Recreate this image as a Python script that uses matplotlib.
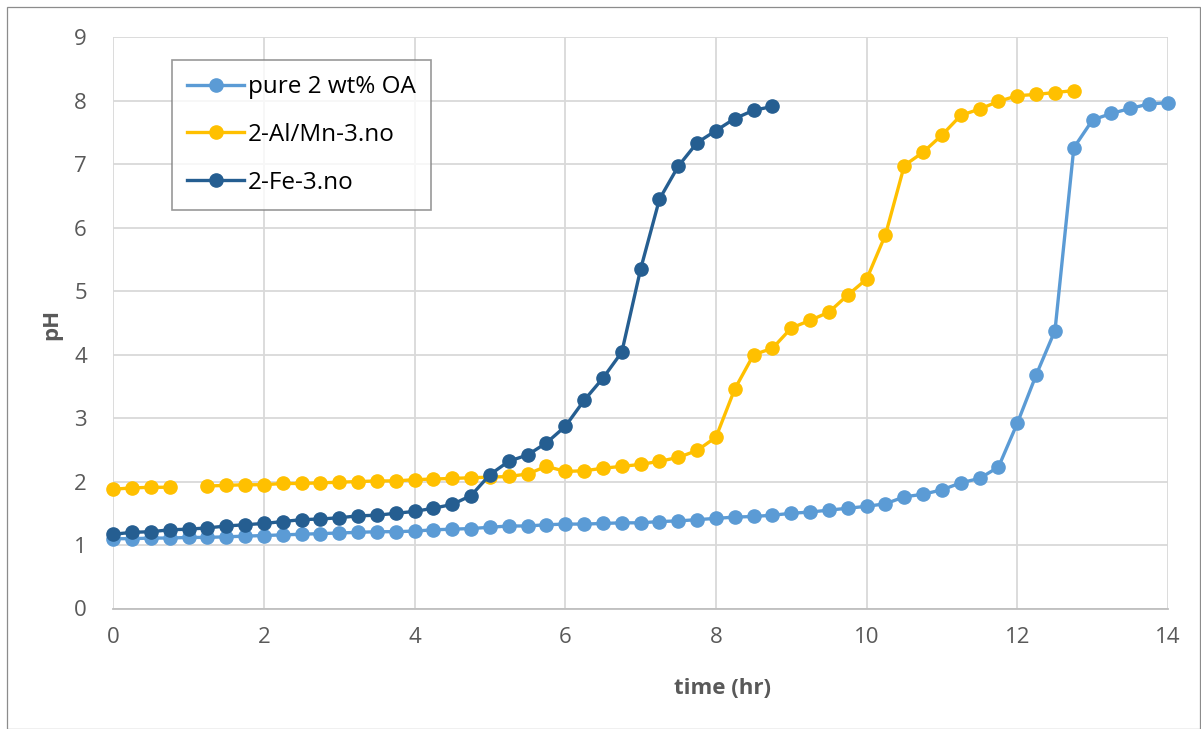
import numpy as np
import matplotlib
matplotlib.use("Agg")
import matplotlib.pyplot as plt
from matplotlib.patches import Rectangle

plt.rcParams['font.family'] = ['Open Sans', 'DejaVu Sans']

# time axis (hr), sampled every 15 minutes
time_pure = np.arange(57) * 0.25
time_almn = np.arange(52) * 0.25
time_fe = np.arange(36) * 0.25

ph_pure = [1.10, 1.10, 1.11, 1.11, 1.12, 1.12, 1.13, 1.14, 1.15, 1.16,
           1.17, 1.18, 1.19, 1.20, 1.21, 1.21, 1.22, 1.24, 1.25, 1.26,
           1.28, 1.30, 1.30, 1.32, 1.33, 1.33, 1.34, 1.35, 1.35, 1.37,
           1.38, 1.40, 1.42, 1.44, 1.45, 1.47, 1.50, 1.52, 1.55, 1.58,
           1.61, 1.65, 1.76, 1.80, 1.87, 1.98, 2.05, 2.23, 2.92, 3.68,
           4.38, 7.26, 7.70, 7.80, 7.88, 7.95, 7.97]

ph_almn = [1.88, 1.90, 1.91, 1.91, np.nan, 1.93, 1.94, 1.95, 1.95, 1.97,
           1.97, 1.98, 1.99, 2.00, 2.01, 2.01, 2.03, 2.04, 2.05, 2.06,
           2.07, 2.08, 2.12, 2.24, 2.16, 2.17, 2.21, 2.24, 2.27, 2.32,
           2.38, 2.49, 2.70, 3.46, 4.00, 4.10, 4.42, 4.54, 4.67, 4.94,
           5.19, 5.89, 6.98, 7.19, 7.46, 7.77, 7.87, 7.99, 8.08, 8.10,
           8.13, 8.16]

ph_fe = [1.17, 1.20, 1.21, 1.24, 1.25, 1.27, 1.30, 1.32, 1.34, 1.37,
         1.40, 1.41, 1.43, 1.46, 1.47, 1.50, 1.53, 1.58, 1.64, 1.78,
         2.11, 2.32, 2.42, 2.61, 2.87, 3.28, 3.63, 4.04, 5.35, 6.45,
         6.97, 7.34, 7.53, 7.72, 7.85, 7.91]

series_labels = ["pure 2 wt% OA", "2-Al/Mn-3.no", "2-Fe-3.no"]
series_colors = ["#5B9BD5", "#FFC000", "#255E91"]
x_ticks = [0, 2, 4, 6, 8, 10, 12, 14]
y_ticks = list(range(10))

W, H = 1201, 729
fig = plt.figure(figsize=(W / 100, H / 100), dpi=100)

# outer chart frame
fig.patches.append(Rectangle((7 / W, 0.0), 1 - 8 / W, 1 - 7 / H,
                             transform=fig.transFigure, fill=False,
                             edgecolor="#8C8C8C", linewidth=0.9))

ax = fig.add_axes([113.3 / W, 1 - 608.5 / H, (1168 - 113.3) / W, (608.5 - 37.3) / H])
ax.set_xlim(0, 14)
ax.set_ylim(0, 9)
ax.set_xticks(x_ticks)
ax.set_yticks(y_ticks)
ax.grid(True, color="#D9D9D9", linewidth=1.3)
ax.set_axisbelow(True)
for side in ("top", "right", "left"):
    ax.spines[side].set_visible(False)
ax.spines["bottom"].set_color("#BFBFBF")
ax.spines["bottom"].set_linewidth(1.3)
ax.tick_params(length=0, labelsize=16, labelcolor="#595959")
ax.tick_params(axis="x", pad=13)
ax.tick_params(axis="y", pad=19)

for t, v, lab, col in zip([time_pure, time_almn, time_fe],
                          [ph_pure, ph_almn, ph_fe],
                          series_labels, series_colors):
    ax.plot(t, v, color=col, linewidth=2.4, marker="o", markersize=9.5,
            label=lab, clip_on=False)

fig.text(722 / W, 1 - 688 / H, "time (hr)", ha="center", va="center",
         fontsize=16, fontweight="bold", color="#595959")
fig.text(52 / W, 1 - 324 / H, "pH", ha="center", va="center", rotation=90,
         fontsize=16, fontweight="bold", color="#595959")

leg = ax.legend(loc="upper left",
                bbox_to_anchor=((172 - 113.3) / (1168 - 113.3), (608.5 - 60) / (608.5 - 37.3)),
                frameon=True, fancybox=False, fontsize=17.5, handlelength=2.35,
                borderpad=0.62, labelspacing=0.98, handletextpad=0.15,
                borderaxespad=0)
leg.get_frame().set_edgecolor("#7F7F7F")
leg.get_frame().set_linewidth(1.2)

fig.savefig("out.png", dpi=100)
